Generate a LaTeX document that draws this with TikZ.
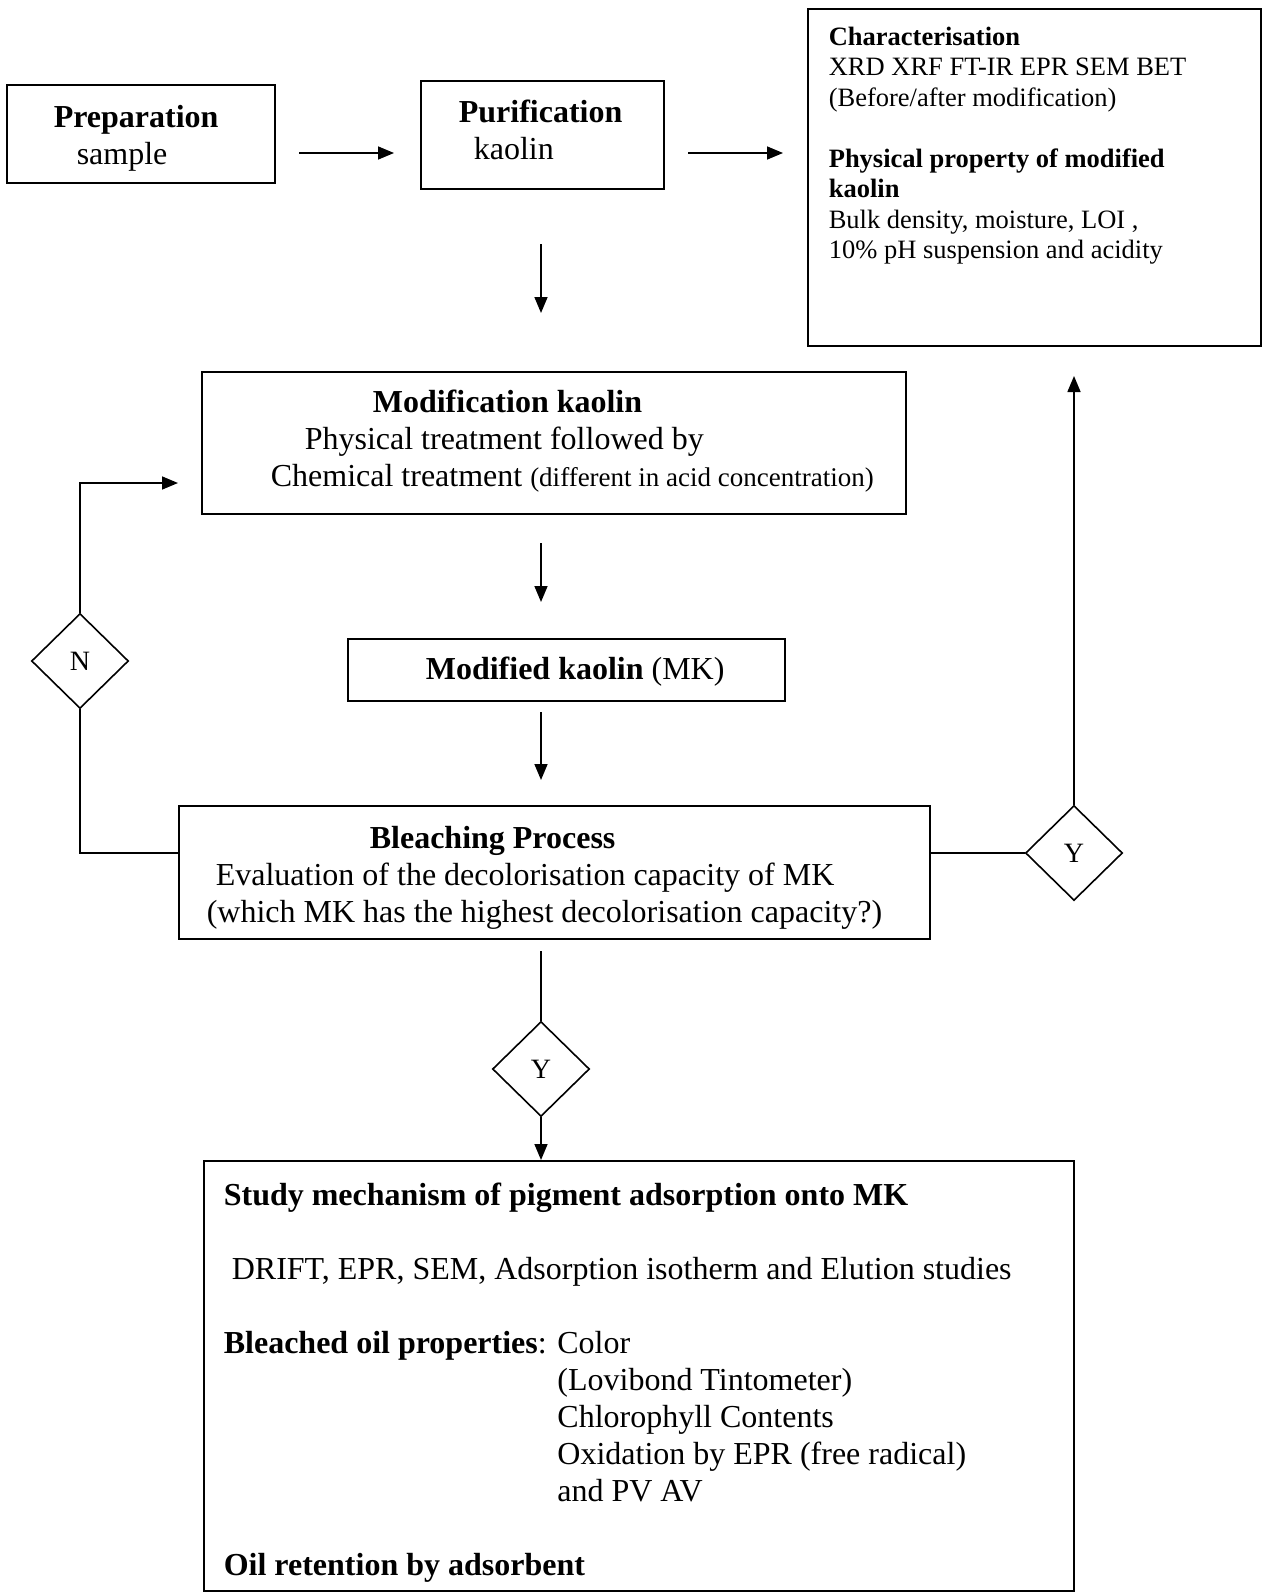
\documentclass[tikz,border=0pt]{standalone}
\usepackage{fontspec}
\setmainfont{Liberation Serif}
\usetikzlibrary{arrows.meta,positioning,shapes.geometric}
\newcommand\propgap{\hphantom{\textbf{Bleached oil properties}: }}
\begin{document}
\begin{tikzpicture}[x=1pt,y=-1pt,line cap=butt,line join=miter,line width=1.6pt,
    >={Triangle[length=16pt,width=13pt]},font=\fontsize{32}{37}\selectfont]
            \tikzset{box/.style={draw,line width=2pt,inner sep=0pt,anchor=north west},
                txt/.style={inner sep=0pt,anchor=north west,align=left},
                small/.style={font=\fontsize{26.5}{30.5}\selectfont},
                decision/.style={draw,diamond,inner sep=0pt,minimum width=97pt,minimum height=95pt,
                    font=\fontsize{28}{30}\selectfont}
            }
            \useasboundingbox (0,0) rectangle (1262,1592);
            % boxes
            \node[box,minimum width=268pt,minimum height=98pt] (prep) at (6,84) {};
            \node[box,minimum width=243pt,minimum height=108pt] (pur) at (420,80) {};
            \node[box,minimum width=453pt,minimum height=337pt] (char) at (807,8) {};
            \node[box,minimum width=704pt,minimum height=142pt] (mod) at (201,371) {};
            \node[box,minimum width=437pt,minimum height=62pt] (mk) at (347,638) {};
            \node[box,minimum width=751pt,minimum height=133pt] (bleach) at (178,805) {};
            \node[box,minimum width=870pt,minimum height=430pt] (study) at (203,1160) {};
            % texts
            \node[txt] (preptxt) at (53,104) {\textbf{Preparation}\\\hspace*{23pt}sample};
            \node[txt] (purtxt) at (458,99) {\textbf{Purification}\\\hspace*{15pt}kaolin};
            \node[txt,small] (chartxt) at (828,26) {\textbf{Characterisation}\\
                XRD XRF FT-IR EPR SEM BET\\
                (Before/after modification)\\[30.5pt]
                \textbf{Physical property of modified}\\
                \textbf{kaolin}\\
                Bulk density, moisture, LOI ,\\
                10\% pH suspension and acidity};
            \node[txt] (modtxt) at (270,389) {\hspace*{102pt}\textbf{Modification kaolin}\\
                \hspace*{34pt}Physical treatment followed by\\
                Chemical treatment {\fontsize{27}{37}\selectfont(different in acid concentration)}};
            \node[txt] (mktxt) at (425,656) {\textbf{Modified kaolin} (MK)};
            \node[txt] (bleachtxt) at (206,825) {\hspace*{163pt}\textbf{Bleaching Process}\\
                \hspace*{9pt}Evaluation of the decolorisation capacity of MK\\
                (which MK has the highest decolorisation capacity?)};
            \node[txt] (studytxt) at (223,1182) {\textbf{Study mechanism of pigment adsorption onto MK}\\[37pt]
                \hspace*{8pt}DRIFT, EPR, SEM, Adsorption isotherm and Elution studies\\[37pt]
                \textbf{Bleached oil properties}: Color\\
                \propgap(Lovibond Tintometer)\\
                \propgap Chlorophyll Contents\\
                \propgap Oxidation by EPR (free radical)\\
                \propgap and PV AV\\[37pt]
                \textbf{Oil retention by adsorbent}};
            % decisions
            \node[decision] (no) at (80,661) {N};
            \node[decision] (yesright) at (1074,853) {Y};
            \node[decision] (yesdown) at (541,1069) {Y};
            \coordinate (spine) at (541,0);
            % connectors
            \draw[->,shorten <=23pt,shorten >=26pt] ([yshift=-19pt]prep.east) -- ([yshift=-19pt]prep.east -| pur.west);
            \draw[->,shorten <=23pt,shorten >=24pt] ([yshift=-18pt]pur.east) -- ([yshift=-18pt]pur.east -| char.west);
            \draw[->,shorten <=54pt,shorten >=58pt] (pur.south -| spine) -- (mod.north -| spine);
            \draw[->,shorten <=28pt,shorten >=36pt] (mod.south -| spine) -- (mk.north -| spine);
            \draw[->,shorten <=10pt,shorten >=25pt] (mk.south -| spine) -- (bleach.north -| spine);
            \draw[shorten <=11pt] (bleach.south -| spine) -- (yesdown.north);
            \draw[->] (yesdown.south) -- (study.north -| spine);
            \draw (bleach.east |- yesright) -- (yesright.west);
            \draw[->,shorten >=29pt] (yesright.north) -- (yesright.north |- char.south);
            \draw (bleach.west |- yesright) -| (no.south);
            \draw[->,shorten >=23pt] (no.north) |- ([yshift=-40pt]mod.west);
    \end{tikzpicture}
\end{document}
